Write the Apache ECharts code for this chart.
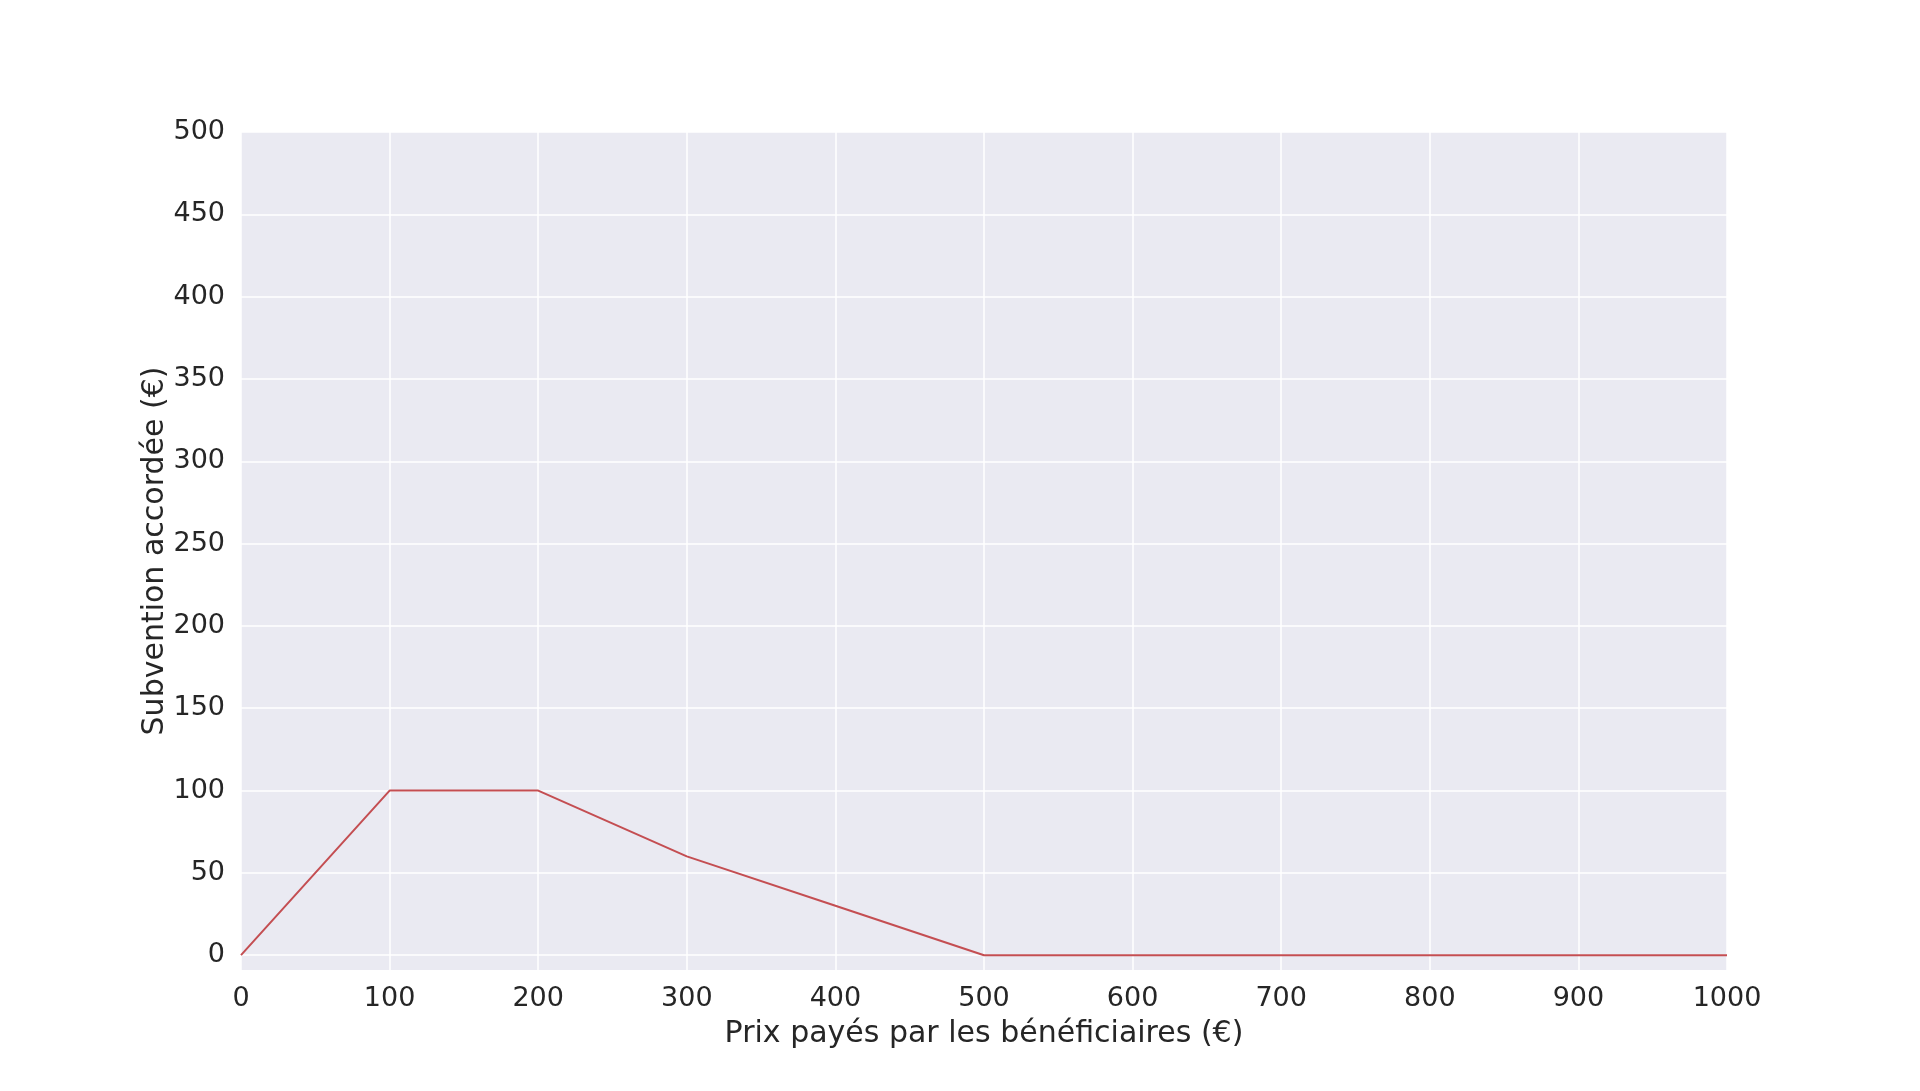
<!DOCTYPE html>
<html><head><meta charset="utf-8">
<script src="https://cdn.jsdelivr.net/npm/echarts@6/dist/echarts.min.js"></script>
<style>html,body{margin:0;padding:0;background:#fff}#c{width:1920px;height:1091px}</style>
</head><body><div id="c"></div>
<script>
const prices = [0, 100, 200, 300, 400, 500, 600, 700, 800, 900, 1000];
const subsidies = [0, 100, 100, 60, 30, 0, 0, 0, 0, 0, 0];
const yTicks = [0, 50, 100, 150, 200, 250, 300, 350, 400, 450, 500];
const xTitle = 'Prix payés par les bénéficiaires (€)';
const yTitle = 'Subvention accordée (€)';

const font = 'DejaVu Sans';
const txt = '#262626';
const chart = echarts.init(document.getElementById('c'), null, {renderer: 'canvas'});
chart.setOption({
  animation: false,
  backgroundColor: '#ffffff',
  grid: {left: 241, right: 193, top: 132, bottom: 121, show: true, backgroundColor: '#EAEAF2', borderWidth: 0},
  xAxis: {
    type: 'value', min: 0, max: 1000, interval: 100,
    name: xTitle, nameLocation: 'middle', nameGap: 49, nameMoveOverlap: false,
    nameTextStyle: {fontFamily: font, fontSize: 30, color: txt},
    axisLine: {show: false}, axisTick: {show: false},
    axisLabel: {fontFamily: font, fontSize: 27, color: txt, margin: 15, formatter: v => String(v)},
    splitLine: {show: true, lineStyle: {color: '#ffffff', width: 1.5}}
  },
  yAxis: {
    type: 'value', min: -9, max: 500,
    name: yTitle, nameLocation: 'middle', nameGap: 71, nameMoveOverlap: false,
    nameTextStyle: {fontFamily: font, fontSize: 30, color: txt},
    axisLine: {show: false},
    axisTick: {show: false, customValues: yTicks},
    axisLabel: {fontFamily: font, fontSize: 27, color: txt, margin: 16, customValues: yTicks, formatter: v => String(v)},
    splitLine: {show: true, lineStyle: {color: '#ffffff', width: 1.5}}
  },
  series: [{
    type: 'line',
    data: prices.map((p, i) => [p, subsidies[i]]),
    showSymbol: false,
    lineStyle: {color: '#C44E52', width: 2},
    itemStyle: {color: '#C44E52'},
    z: 3
  }]
});
</script></body></html>
